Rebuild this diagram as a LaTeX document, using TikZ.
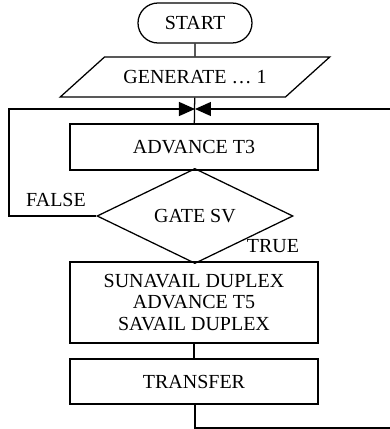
\documentclass[tikz,border=0pt]{standalone}
\usepackage{fontspec}
\setmainfont{Liberation Serif}
\usetikzlibrary{shapes.geometric,arrows.meta}
\begin{document}
\begin{tikzpicture}[line width=0.9pt,
    every node/.style={font=\fontsize{14.2}{15.6}\selectfont, align=center},
    term/.style={draw, rectangle, rounded corners=0.5cm, minimum width=2.85cm, minimum height=1cm},
    io/.style={draw, trapezium, trapezium left angle=31.5, trapezium right angle=148.5, trapezium stretches=true, minimum width=6.75cm, minimum height=1cm},
    block/.style={draw, rectangle, minimum width=6.2cm},
    test/.style={draw, diamond, minimum width=4.9cm, minimum height=1.65cm, inner sep=0pt},
    tip/.style={-{Triangle[length=0.4cm,width=0.35cm]}}]
      \useasboundingbox (0,0) rectangle (9.75,10.725);
      \node[term] (start) at (4.875,10.15) {START};
      \node[io] (gen) at (4.875,8.8) {GENERATE … 1};
      \coordinate (join) at (4.875,8.0);
      \node[block, minimum height=1.15cm] (adv) at (4.85,7.05) {ADVANCE T3};
      \node[test] (gate) at (4.875,5.325) {GATE SV};
      \node[block, minimum height=2.025cm] (dup) at (4.85,3.1625) {SUNAVAIL DUPLEX\\ADVANCE T5\\SAVAIL DUPLEX};
      \node[block, minimum height=1.125cm] (tr) at (4.85,1.1875) {TRANSFER};
      \node (no) at (1.4,5.725) {FALSE};
      \node (yes) at (6.825,4.575) {TRUE};
      \coordinate (lft) at (0.225,8.0);
      \coordinate (rgt) at (9.9,8.0);
      \coordinate (bot) at (9.9,0.025);
      \draw (start) -- (gen);
      \draw (gen) -- (adv);
      \draw (adv) -- (gate);
      \draw (gate) -- (dup);
      \draw (dup) -- (tr);
      \draw[tip] (gate.west) -| (lft) -- (join);
      \draw[tip] (tr.south -| join) |- (bot) -- (rgt) -- (join);
    \end{tikzpicture}
\end{document}
